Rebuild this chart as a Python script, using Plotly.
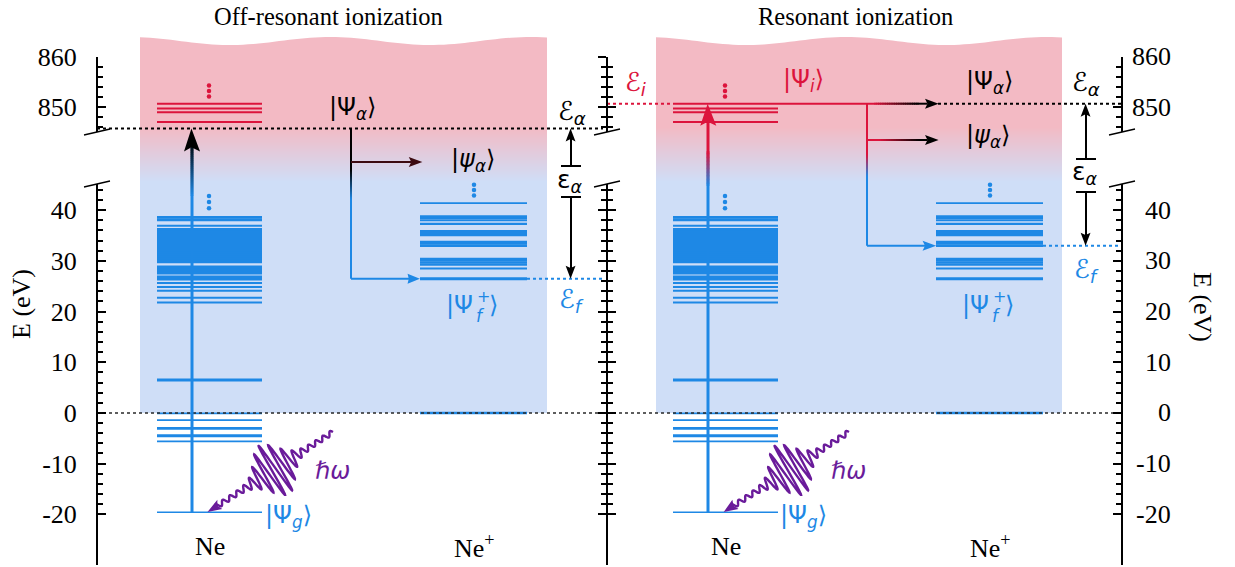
import numpy as np
import plotly.graph_objects as go

W, H = 1235, 567

# ------------------------------------------------------------------ energies (eV)
ne_ground = [-19.6]
ne_rydberg_thin = [-5.6, -1.4, -0.1]
ne_rydberg_bold = [-4.5, -3.05]
ne_valence = [6.5]
ne_satellites = [21.8, 22.75, 24.1, 24.85, 25.65, 36.95]
ne_satellite_bands = [26.4, 26.85, 27.6, 28.0, 28.4, 28.8,
                      29.8, 30.2, 30.6, 31.0, 31.4, 31.8, 32.2, 32.6, 33.0, 33.4, 33.8,
                      34.2, 34.6, 35.0, 35.4, 35.8, 36.2, 38.1, 38.6]
ne_core_excited = [847.1, 849.0, 849.75, 850.7]

ion_thin = [28.5, 38.0, 41.4]
ion_states = [0.0, 29.3, 29.7, 30.1, 30.4, 33.0, 33.4, 33.75, 35.1, 35.5, 35.85,
              37.3, 38.4, 38.75]
ion_main = [26.5]

E_alpha_off = 845.8   # photon energy, off resonance
E_f_off = 26.5        # final ionic state reached off resonance
E_i = 850.7           # core-excited intermediate state (resonant case)
E_f_res = 33.0        # final ionic state reached on resonance

more_ne_valence = [40.4, 41.6, 42.8]
more_ion = [42.9, 44.0, 45.0]
more_ne_core = [852.1, 853.2, 854.3]

lower_ticks = [-20, -10, 0, 10, 20, 30, 40]
lower_labels = ["-20", "-10", "0", "10", "20", "30", "40"]
lower_minor = [-18, -16, -14, -12, -8, -6, -4, -2, 2, 4, 6, 8, 12, 14, 16, 18,
               22, 24, 26, 28, 32, 34, 36, 38, 42, 44]
upper_ticks = [850, 860]
upper_labels = ["850", "860"]
upper_minor = [846, 848, 852, 854, 856, 858]

# ------------------------------------------------------------------ geometry
LO_RANGE, LO_PIX = (-30.0, 45.17), (565.0, 184.0)
HI_RANGE, HI_PIX = (845.1, 860.0), (132.0, 56.7)
AX_L, AX_M, AX_R = 97, 607, 1122
SHIFT = 516
NE_COL = (157, 262)
ION_COL = (420, 527)
BG_COL = (140, 547)

BLUE = (30, 136, 229)
RED = (220, 20, 60)
BLACK = (0, 0, 0)
PINK = (243, 186, 196)
LBLUE = (207, 222, 247)
PURPLE = (106, 27, 154)
MAROON = (60, 10, 16)

SERIF = "Liberation Serif"
SANS = "DejaVu Sans"


def rgb(c):
    return "rgb(%d,%d,%d)" % tuple(int(round(v)) for v in c)


def mix(c0, c1, t):
    return tuple(a + (b - a) * t for a, b in zip(c0, c1))


def pap(py):
    return 1 - py / H


def xp(px):
    return px / W


def e2px(E, rng, pix):
    return pix[0] + (E - rng[0]) / (rng[1] - rng[0]) * (pix[1] - pix[0])


def lo(E):
    return e2px(E, LO_RANGE, LO_PIX)


def hi(E):
    return e2px(E, HI_RANGE, HI_PIX)


def dom(pix):
    return [pap(pix[0]), pap(pix[1])]


shapes = []
annotations = []
traces = []


def seg(x0, y0, x1, y1, color, width):
    shapes.append(dict(type="line", xref="paper", yref="paper",
                       x0=xp(x0), y0=pap(y0), x1=xp(x1), y1=pap(y1),
                       line=dict(color=rgb(color), width=width)))


def grad_line(x0, y0, x1, y1, c0, c1, g0, g1, width, along="y", n=24):
    a0, a1 = (y0, y1) if along == "y" else (x0, x1)
    brk = [0.0, 1.0]
    if a1 != a0:
        sa, sb = sorted([(g0 - a0) / (a1 - a0), (g1 - a0) / (a1 - a0)])
        sa, sb = min(max(sa, 0), 1), min(max(sb, 0), 1)
        brk = sorted(set([0.0, 1.0] + list(np.linspace(sa, sb, n + 1))))
    L = np.hypot(x1 - x0, y1 - y0)
    ov = 0.6 / L  # small overlap so pieces join without seams
    for s0, s1 in zip(brk[:-1], brk[1:]):
        if s1 - s0 < 1e-9:
            continue
        m = a0 + (a1 - a0) * (s0 + s1) / 2
        t = min(max((m - g0) / (g1 - g0), 0), 1)
        e0, e1 = max(s0 - ov, 0), min(s1 + ov, 1)
        seg(x0 + (x1 - x0) * e0, y0 + (y1 - y0) * e0,
            x0 + (x1 - x0) * e1, y0 + (y1 - y0) * e1, mix(c0, c1, t), width)


def head(tx, ty, ux, uy, length, width, color):
    n = np.hypot(ux, uy)
    ux, uy = ux / n, uy / n
    bx, by = tx - length * ux, ty - length * uy
    qx, qy = -uy, ux
    pts = [(tx, ty),
           (bx + qx * width / 2, by + qy * width / 2),
           (tx - 0.82 * length * ux, ty - 0.82 * length * uy),
           (bx - qx * width / 2, by - qy * width / 2)]
    path = "M " + " L ".join("%.3f,%.5f" % (xp(x), pap(y)) for x, y in pts) + " Z"
    shapes.append(dict(type="path", xref="paper", yref="paper", path=path,
                       fillcolor=rgb(color), line=dict(width=0)))


def arrow(x0, y0, x1, y1, color, width, hl, hw):
    n = np.hypot(x1 - x0, y1 - y0)
    ux, uy = (x1 - x0) / n, (y1 - y0) / n
    seg(x0, y0, x1 - 0.8 * hl * ux, y1 - 0.8 * hl * uy, color, width)
    head(x1, y1, ux, uy, hl, hw, color)


def label(x, y, text, color=BLACK, size=24, family=SANS, xanchor="center", angle=0):
    annotations.append(dict(x=xp(x), y=pap(y), xref="paper", yref="paper", text=text,
                            showarrow=False, xanchor=xanchor, yanchor="middle",
                            textangle=angle,
                            font=dict(family=family, size=size, color=rgb(color))))


def level_trace(energies, x0, x1, yaxis, color, width):
    xs, ys = [], []
    for e in energies:
        xs += [x0, x1, None]
        ys += [e, e, None]
    traces.append(go.Scatter(x=xs, y=ys, yaxis=yaxis, mode="lines",
                             line=dict(color=rgb(color), width=width),
                             hoverinfo="skip", showlegend=False))


def dotted(x0, x1, E, yaxis, color, width=2):
    traces.append(go.Scatter(x=[x0, x1], y=[E, E], yaxis=yaxis, mode="lines",
                             line=dict(color=rgb(color), width=width, dash="dot"),
                             hoverinfo="skip", showlegend=False))


def dots(x, energies, yaxis, color):
    traces.append(go.Scatter(x=[x] * len(energies), y=energies, yaxis=yaxis,
                             mode="markers", cliponaxis=False,
                             marker=dict(color=rgb(color), size=4.5),
                             hoverinfo="skip", showlegend=False))


def panel_background(x0, x1):
    xs = np.linspace(x0, x1, 80)
    top = 41 + 4 * np.sin(2 * np.pi * (xs - x0) / 200 - 1.26)
    g_top, g_bot = 127, 182
    path = "M %.5f,%.5f " % (xp(x0), pap(g_top + 0.5))
    path += " ".join("L %.5f,%.5f" % (xp(x), pap(y)) for x, y in zip(xs, top))
    path += " L %.5f,%.5f Z" % (xp(x1), pap(g_top + 0.5))
    shapes.append(dict(type="path", xref="paper", yref="paper", path=path,
                       fillcolor=rgb(PINK), line=dict(width=0), layer="below"))
    for k in range(g_top, g_bot):
        t = (k + 0.5 - g_top) / (g_bot - g_top)
        shapes.append(dict(type="rect", xref="paper", yref="paper", layer="below",
                           x0=xp(x0), x1=xp(x1), y0=pap(k), y1=pap(k + 1.6),
                           fillcolor=rgb(mix(PINK, LBLUE, t)), line=dict(width=0)))
    shapes.append(dict(type="rect", xref="paper", yref="paper", layer="below",
                       x0=xp(x0), x1=xp(x1), y0=pap(g_bot), y1=pap(lo(0)),
                       fillcolor=rgb(LBLUE), line=dict(width=0)))


def photon(sx, sy, tx, ty):
    L = np.hypot(tx - sx, ty - sy)
    ux, uy = (tx - sx) / L, (ty - sy) / L
    qx, qy = -uy, ux
    s = np.arange(0, L - 10, 0.25)
    amp = 2.4 + 26 * np.exp(-((s - 70) / 19) ** 2)
    w = amp * np.sin(2 * np.pi * s / 8.5)
    xs = sx + ux * s + qx * w
    ys = sy + uy * s + qy * w
    path = "M " + " L ".join("%.5f,%.5f" % (xp(x), pap(y)) for x, y in zip(xs, ys))
    shapes.append(dict(type="path", xref="paper", yref="paper", path=path,
                       line=dict(color=rgb(PURPLE), width=2.4)))
    head(tx, ty, ux, uy, 14, 11, PURPLE)


# ------------------------------------------------------------------ both panels
for off in (0, SHIFT):
    panel_background(BG_COL[0] + off, BG_COL[1] + off - (1 if off else 0))

for off in (0, SHIFT):
    nx0, nx1 = NE_COL[0] + off, NE_COL[1] + off
    ix0, ix1 = ION_COL[0] + off, ION_COL[1] + off
    level_trace(ne_ground, nx0, nx1, "y", BLUE, 1.5)
    level_trace(ne_rydberg_thin, nx0, nx1, "y", BLUE, 1.8)
    level_trace(ne_rydberg_bold, nx0, nx1, "y", BLUE, 2.8)
    level_trace(ne_valence, nx0, nx1, "y", BLUE, 3)
    level_trace(ne_satellites, nx0, nx1, "y", BLUE, 2)
    level_trace(ne_satellite_bands, nx0, nx1, "y", BLUE, 2.8)
    level_trace(ne_core_excited, nx0, nx1, "y2", RED, 2)
    level_trace(ion_thin, ix0, ix1, "y", BLUE, 1.8)
    level_trace(ion_states, ix0, ix1, "y", BLUE, 2.4)
    level_trace(ion_main, ix0, ix1, "y", BLUE, 3)
    dots(209 + off, more_ne_valence, "y", BLUE)
    dots(209 + off, more_ne_core, "y2", RED)
    dots(474 + off, more_ion, "y", BLUE)

# threshold and reference levels
dotted(AX_L, AX_R, 0, "y", (40, 40, 40), 1.6)
dotted(AX_L, 603, E_alpha_off, "y2", BLACK)
dotted(ION_COL[1], 603, E_f_off, "y", BLUE)
dotted(AX_M, NE_COL[0] + SHIFT, E_i, "y2", RED)
dotted(938, AX_R, E_i, "y2", BLACK)
dotted(ION_COL[1] + SHIFT, AX_R, E_f_res, "y", BLUE)

# ------------------------------------------------------------------ off-resonant arrows
grad_line(192, lo(-19.6), 192, hi(E_alpha_off) + 0.8 * 23, BLUE, BLACK, 195, 140, 3)
head(192, hi(E_alpha_off), 0, -1, 23, 16, BLACK)
grad_line(351, hi(E_alpha_off), 351, lo(E_f_off), BLACK, BLUE, 170, 200, 2)
arrow(351, lo(E_f_off), ION_COL[0], lo(E_f_off), BLUE, 2, 13, 10)
arrow(351, 162, 422, 162, MAROON, 2, 13, 10)
# energy bookkeeping arrows
for x, ytop, ybar1, ybar2, ybot in ((571, hi(E_alpha_off), 166, 197, lo(E_f_off)),
                                     (1086, hi(E_i), 159, 192, lo(E_f_res))):
    seg(x - 10, ybar1, x + 10, ybar1, BLACK, 2)
    arrow(x, ybar1, x, ytop, BLACK, 2, 13, 10)
    seg(x - 10, ybar2, x + 10, ybar2, BLACK, 2)
    arrow(x, ybar2, x, ybot, BLACK, 2, 13, 10)

# ------------------------------------------------------------------ resonant arrows
grad_line(708, lo(-19.6), 708, hi(E_i) + 0.8 * 22, BLUE, RED, 185, 152, 3)
head(708, hi(E_i), 0, -1, 22, 16, RED)
grad_line(NE_COL[1] + SHIFT, hi(E_i), 938 - 10.4, hi(E_i), RED, BLACK, 875, 918, 2, along="x")
head(938, hi(E_i), 1, 0, 13, 10, BLACK)
grad_line(867, hi(E_i), 867, lo(E_f_res), RED, BLUE, 155, 177, 2)
arrow(867, lo(E_f_res), ION_COL[0] + SHIFT, lo(E_f_res), BLUE, 2, 13, 10)
grad_line(867, 140, 938 - 10.4, 140, RED, BLACK, 880, 920, 2, along="x")
head(938, 140, 1, 0, 13, 10, BLACK)

# photons
photon(333, 432, 208, 512)
photon(333 + SHIFT, 432, 208 + SHIFT, 512)

# axis break marks
for x in (AX_L, AX_M, AX_R):
    for y in (HI_PIX[0], LO_PIX[1]):
        seg(x - 13, y + 3, x + 13, y - 3, BLACK, 1.3)

# ------------------------------------------------------------------ labels
label(328, 17, "Off-resonant ionization", size=24.5, family=SERIF)
label(855, 17, "Resonant ionization", size=24.5, family=SERIF)
label(21, 304, "E (eV)", size=26, family=SERIF, angle=-90)
label(1203, 307, "E (eV)", size=26, family=SERIF, angle=90)

for off in (0, SHIFT):
    label(210 + off, 546, "Ne", size=26, family=SERIF)
    label(474 + off, 546, "Ne<sup>+</sup>", size=26, family=SERIF)
    label(288 + off, 516, "|Ψ<sub><i>g</i></sub>⟩", BLUE)
    label(332 + off, 471, "<i>ℏω</i>", PURPLE, size=24)
    # |Ψ_f^+>
    label(475 + off, 305, "|Ψ", BLUE, size=24, xanchor="right")
    label(475 + off, 296, "+", BLUE, size=16, xanchor="left")
    label(474 + off, 316, "<i>f</i>", BLUE, size=17, xanchor="left")
    label(487 + off, 305, "⟩", BLUE, size=24, xanchor="left")

label(352, 108, "|Ψ<sub><i>α</i></sub>⟩")
label(473, 160, "|<i>ψ</i><sub><i>α</i></sub>⟩")
label(572, 112, "<i>ℰ</i><sub><i>α</i></sub>", size=26)
label(570, 181, "ε<sub><i>α</i></sub>", size=25)
label(571, 300, "<i>ℰ</i><sub><i>f</i></sub>", BLUE, size=26)

label(636, 83, "<i>ℰ</i><sub><i>i</i></sub>", RED, size=26)
label(803, 81, "|Ψ<sub><i>i</i></sub>⟩", RED)
label(989, 82, "|Ψ<sub><i>α</i></sub>⟩")
label(988, 137, "|<i>ψ</i><sub><i>α</i></sub>⟩")
label(1086, 83, "<i>ℰ</i><sub><i>α</i></sub>", size=26)
label(1085, 173, "ε<sub><i>α</i></sub>", size=25)
label(1086, 270, "<i>ℰ</i><sub><i>f</i></sub>", BLUE, size=26)

# right-hand tick labels, right aligned
for v, t in zip(lower_ticks, lower_labels):
    annotations.append(dict(x=xp(1173), y=v, xref="paper", yref="y", text=t,
                            showarrow=False, xanchor="right", yanchor="middle",
                            font=dict(family=SERIF, size=26, color="black")))
for v, t in zip(upper_ticks, upper_labels):
    annotations.append(dict(x=xp(1173), y=v, xref="paper", yref="y2", text=t,
                            showarrow=False, xanchor="right", yanchor="middle",
                            font=dict(family=SERIF, size=26, color="black")))

# ------------------------------------------------------------------ axes
tickfont = dict(family=SERIF, size=26, color="black")


def yax(rng, pix, pos, side, ticks, vals, text, minor_vals, labels=True, overlay=None):
    ax = dict(domain=dom(pix), range=list(rng), anchor="free", position=pos, side=side,
              showline=True, linecolor="black", linewidth=2, ticks=ticks, ticklen=8,
              tickwidth=2, tickcolor="black", tickmode="array", tickvals=vals,
              ticktext=text, tickfont=tickfont, showticklabels=labels,
              ticklabelstandoff=14, automargin=False,
              minor=dict(tickmode="array", tickvals=minor_vals, ticks=ticks, ticklen=5,
                         tickwidth=1.5, tickcolor="black"),
              showgrid=False, zeroline=False, fixedrange=True)
    if overlay:
        ax["overlaying"] = overlay
    return ax


layout = dict(
    width=W, height=H, margin=dict(l=0, r=0, t=0, b=0, pad=0, autoexpand=False),
    paper_bgcolor="white", plot_bgcolor="rgba(0,0,0,0)", showlegend=False,
    xaxis=dict(range=[0, W], domain=[0, 1], visible=False, fixedrange=True,
               automargin=False),
    yaxis=yax(LO_RANGE, LO_PIX, xp(AX_L), "left", "inside", lower_ticks, lower_labels, lower_minor),
    yaxis2=yax(HI_RANGE, HI_PIX, xp(AX_L), "left", "inside", upper_ticks, upper_labels, upper_minor),
    yaxis3=yax(LO_RANGE, LO_PIX, xp(AX_R), "right", "inside", lower_ticks, lower_labels, lower_minor, False, "y"),
    yaxis4=yax(HI_RANGE, HI_PIX, xp(AX_R), "right", "inside", upper_ticks, upper_labels, upper_minor, False, "y2"),
    yaxis5=yax(LO_RANGE, LO_PIX, xp(AX_M), "left", "inside", lower_ticks, lower_labels, lower_minor, False, "y"),
    yaxis6=yax(LO_RANGE, LO_PIX, xp(AX_M), "left", "outside", lower_ticks, lower_labels, lower_minor, False, "y"),
    yaxis7=yax(HI_RANGE, HI_PIX, xp(AX_M), "left", "inside", upper_ticks, upper_labels, upper_minor, False, "y2"),
    yaxis8=yax(HI_RANGE, HI_PIX, xp(AX_M), "left", "outside", upper_ticks, upper_labels, upper_minor, False, "y2"),
    shapes=shapes, annotations=annotations,
)

for k in range(3, 9):
    traces.append(go.Scatter(x=[None], y=[None], yaxis="y%d" % k, hoverinfo="skip",
                             showlegend=False))

fig = go.Figure(data=traces, layout=layout)
fig.write_html("out.html")
